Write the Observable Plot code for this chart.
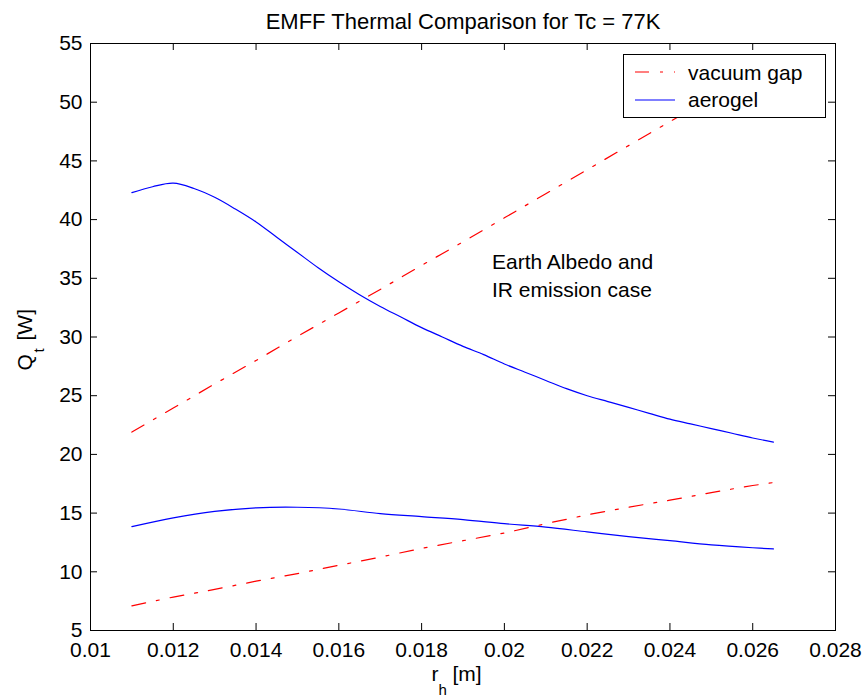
<!DOCTYPE html>
<html>
<head>
<meta charset="utf-8">
<script src="https://cdn.jsdelivr.net/npm/d3@7"></script>
<script src="https://cdn.jsdelivr.net/npm/@observablehq/plot@0.6"></script>
<style>
  html, body { margin: 0; padding: 0; background: #fff; }
  #chart { width: 862px; height: 698px; }
</style>
</head>
<body>
<div id="chart"></div>
<script>
// ---------- data ----------
const titleText = "EMFF Thermal Comparison for Tc = 77K";
const annotationLines = "Earth Albedo and\nIR emission case";
const annotationX = 0.0197;
const annotationY = 37.5;

const xTicks = [0.01, 0.012, 0.014, 0.016, 0.018, 0.02, 0.022, 0.024, 0.026, 0.028];
const yTicks = [5, 10, 15, 20, 25, 30, 35, 40, 45, 50, 55];

const seriesNames = ["vacuum gap", "aerogel"];

// upper pair (Earth albedo and IR emission case)
const rhUpperVac = [0.011, 0.012, 0.013, 0.014, 0.015, 0.016, 0.017, 0.018, 0.019, 0.020, 0.021, 0.022, 0.023, 0.024, 0.025, 0.026, 0.0265];
const qUpperVac  = [21.9, 23.95, 26.0, 28.0, 30.05, 32.05, 34.05, 36.1, 38.1, 40.15, 42.2, 44.25, 46.3, 48.35, 50.4, 52.45, 53.45];

const rhUpperAero = [0.011, 0.0115, 0.012, 0.0125, 0.013, 0.0135, 0.014, 0.0145, 0.015, 0.0155, 0.016, 0.0165, 0.017, 0.0175, 0.018, 0.0185, 0.019, 0.0195, 0.020, 0.0205, 0.021, 0.0215, 0.022, 0.0225, 0.023, 0.0235, 0.024, 0.0245, 0.025, 0.0255, 0.026, 0.0265];
const qUpperAero  = [42.3, 42.8, 43.1, 42.65, 41.9, 40.9, 39.8, 38.5, 37.2, 35.9, 34.7, 33.6, 32.6, 31.7, 30.8, 30.0, 29.2, 28.5, 27.7, 27.0, 26.3, 25.6, 25.0, 24.5, 24.0, 23.5, 23.0, 22.6, 22.2, 21.8, 21.4, 21.05];

// lower pair
const rhLowerVac = [0.011, 0.012, 0.013, 0.014, 0.015, 0.016, 0.017, 0.018, 0.019, 0.020, 0.021, 0.022, 0.023, 0.024, 0.025, 0.026, 0.0265];
const qLowerVac  = [7.1, 7.85, 8.5, 9.2, 9.85, 10.55, 11.25, 12.0, 12.65, 13.3, 14.1, 14.85, 15.5, 16.1, 16.75, 17.35, 17.6];

const rhLowerAero = [0.011, 0.012, 0.013, 0.014, 0.015, 0.016, 0.017, 0.018, 0.019, 0.020, 0.021, 0.022, 0.023, 0.024, 0.025, 0.026, 0.0265];
const qLowerAero  = [13.85, 14.6, 15.15, 15.45, 15.5, 15.35, 14.95, 14.7, 14.45, 14.1, 13.8, 13.4, 13.0, 12.65, 12.3, 12.05, 11.95];

// ---------- layout / style ----------
const W = 862, H = 698;
const mt = 43, mr = 27, mb = 68, ml = 90;
const frameW = W - ml - mr, frameH = H - mt - mb;
const tickLen = 7;
const font = "'Liberation Sans', Arial, Helvetica, sans-serif";
const vacColor = "#ff0000", aeroColor = "#0000ff";
const vacDash = "14,11,3,11";

const toRows = (xs, ys, s) => xs.map((x, i) => ({rh: x, q: ys[i], s}));
const upperVac = toRows(rhUpperVac, qUpperVac, seriesNames[0]);
const lowerVac = toRows(rhLowerVac, qLowerVac, seriesNames[0]);
const upperAero = toRows(rhUpperAero, qUpperAero, seriesNames[1]);
const lowerAero = toRows(rhLowerAero, qLowerAero, seriesNames[1]);

const chart = Plot.plot({
  width: W, height: H,
  marginTop: mt, marginRight: mr, marginBottom: mb, marginLeft: ml,
  x: {domain: [0.01, 0.028]},
  y: {domain: [5, 55]},
  style: {fontFamily: font, fontSize: "21px", background: "#fff", color: "#000", overflow: "visible"},
  marks: [
    Plot.line(upperAero, {x: "rh", y: "q", stroke: aeroColor, strokeWidth: 1.2, curve: "catmull-rom"}),
    Plot.line(lowerAero, {x: "rh", y: "q", stroke: aeroColor, strokeWidth: 1.2, curve: "catmull-rom"}),
    Plot.line(upperVac, {x: "rh", y: "q", stroke: vacColor, strokeWidth: 1.2, strokeDasharray: vacDash}),
    Plot.line(lowerVac, {x: "rh", y: "q", stroke: vacColor, strokeWidth: 1.2, strokeDasharray: vacDash}),
    Plot.frame({stroke: "#000", strokeWidth: 1}),
    // inward ticks on all four sides
    Plot.ruleX(xTicks, {x: d => d, insetTop: frameH - tickLen, stroke: "#000"}),
    Plot.ruleX(xTicks, {x: d => d, insetBottom: frameH - tickLen, stroke: "#000"}),
    Plot.ruleY(yTicks, {y: d => d, insetRight: frameW - tickLen, stroke: "#000"}),
    Plot.ruleY(yTicks, {y: d => d, insetLeft: frameW - tickLen, stroke: "#000"}),
    Plot.axisX(xTicks, {tickSize: 0, tickPadding: 12, tickFormat: d => String(d), label: null, fontSize: 21}),
    Plot.axisY(yTicks, {tickSize: 0, tickPadding: 8, tickFormat: d => String(d), label: null, fontSize: 21}),
    // title
    Plot.text([titleText], {text: d => d, frameAnchor: "top", dy: -15, lineAnchor: "bottom", fontSize: 22}),
    // x label r_h [m]
    Plot.text(["r"], {text: d => d, frameAnchor: "bottom", textAnchor: "start", lineAnchor: "bottom", dx: -31.5, dy: 50, fontSize: 21}),
    Plot.text(["h"], {text: d => d, frameAnchor: "bottom", textAnchor: "start", lineAnchor: "bottom", dx: -24.5, dy: 64, fontSize: 15}),
    Plot.text(["[m]"], {text: d => d, frameAnchor: "bottom", textAnchor: "start", lineAnchor: "bottom", dx: -10.5, dy: 50, fontSize: 21}),
    // y label Q_t [W]
    Plot.text(["Q"], {text: d => d, frameAnchor: "left", rotate: -90, textAnchor: "start", lineAnchor: "bottom", dx: -59, dy: 33.5, fontSize: 21}),
    Plot.text(["t"], {text: d => d, frameAnchor: "left", rotate: -90, textAnchor: "start", lineAnchor: "bottom", dx: -47, dy: 15.5, fontSize: 15}),
    Plot.text(["[W]"], {text: d => d, frameAnchor: "left", rotate: -90, textAnchor: "start", lineAnchor: "bottom", dx: -59, dy: 3.5, fontSize: 21}),
    // annotation
    Plot.text([annotationLines], {text: d => d, x: annotationX, y: annotationY, textAnchor: "start", lineAnchor: "top", lineHeight: 1.35, fontSize: 21})
  ]
});

// legend drawn on top (opaque box, like MATLAB)
const svg = d3.select(chart);
const lg = svg.append("g").attr("font-family", font).attr("font-size", 21).attr("text-anchor", "start");
const lx = 623, ly = 54, lw = 202, lh = 63;
lg.append("rect").attr("x", lx + 0.5).attr("y", ly + 0.5).attr("width", lw).attr("height", lh)
  .attr("fill", "#fff").attr("stroke", "#000");
const entries = [
  {name: seriesNames[0], color: vacColor, dash: vacDash, yLine: 72, yText: 80},
  {name: seriesNames[1], color: aeroColor, dash: null, yLine: 100, yText: 107}
];
entries.forEach(e => {
  lg.append("line").attr("x1", 635).attr("x2", 675).attr("y1", e.yLine).attr("y2", e.yLine)
    .attr("stroke", e.color).attr("stroke-width", 1.2).attr("stroke-dasharray", e.dash);
  lg.append("text").attr("x", 688).attr("y", e.yText).attr("fill", "#000")
    .attr("text-anchor", "start").text(e.name);
});

document.getElementById("chart").appendChild(chart);
</script>
</body>
</html>
